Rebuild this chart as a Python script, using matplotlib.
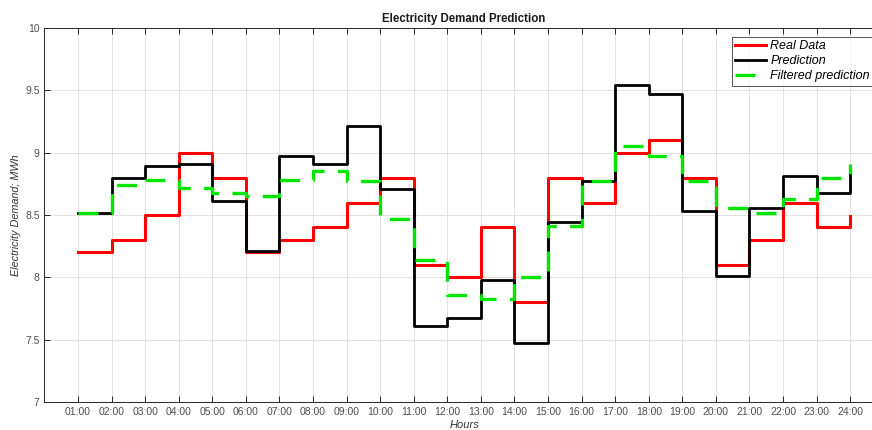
import numpy as np
import matplotlib
matplotlib.use("Agg")
import matplotlib.pyplot as plt

plt.rcParams['font.family'] = ['Liberation Sans', 'DejaVu Sans']

# hourly values (stairs, value held until next hour)
hours = list(range(1, 25))
hour_labels = ["%02d:00" % h for h in hours]

real_data = [8.2, 8.3, 8.5, 9.0, 8.8, 8.2, 8.3, 8.4, 8.6, 8.8, 8.1, 8.0,
             8.4, 7.8, 8.8, 8.6, 9.0, 9.1, 8.8, 8.1, 8.3, 8.6, 8.4, 8.49]
prediction = [8.52, 8.80, 8.89, 8.91, 8.61, 8.21, 8.97, 8.91, 9.21, 8.71, 7.61, 7.67,
              7.98, 7.47, 8.44, 8.77, 9.54, 9.47, 8.53, 8.01, 8.56, 8.81, 8.68, 8.86]
filtered = [8.52, 8.74, 8.78, 8.72, 8.68, 8.65, 8.78, 8.85, 8.77, 8.47, 8.14, 7.86,
            7.83, 8.00, 8.41, 8.77, 9.05, 8.97, 8.77, 8.56, 8.52, 8.63, 8.80, 8.91]

y_ticks = [7, 7.5, 8, 8.5, 9, 9.5, 10]
y_labels = ["7", "7.5", "8", "8.5", "9", "9.5", "10"]

fig = plt.figure(figsize=(8.72, 4.3), dpi=100)
# axes runs past the right edge of the picture, like the cropped original
ax = fig.add_axes([0.051, 0.0651, 0.9625, 0.8698])

ax.step(hours, real_data, where='post', color='#ff0000', lw=2.2, label='Real Data')
ax.step(hours, prediction, where='post', color='black', lw=2.0, label='Prediction')
ax.step(hours, filtered, where='post', color='#00e600', lw=2.4, dashes=(6, 4),
        label='Filtered prediction')

ax.set_xlim(0, 25)
ax.set_ylim(7, 10)
ax.set_xticks(hours)
ax.set_xticklabels(hour_labels)
ax.set_yticks(y_ticks)
ax.set_yticklabels(y_labels)

ax.grid(True, color='#dcdcdc', lw=0.6)
ax.set_axisbelow(True)
ax.tick_params(direction='in', length=4, width=0.7, colors='#262626',
               labelcolor='#4d4d4d', labelsize=7.5, top=True, right=False)
for s in ['top', 'left', 'bottom']:
    ax.spines[s].set_color('#262626')
    ax.spines[s].set_linewidth(0.7)
ax.spines['right'].set_visible(False)

ax.set_title('Electricity Demand Prediction', fontsize=8.3, fontweight='bold',
             color='#1a1a1a', pad=4)
ax.set_xlabel('Hours', fontsize=8, fontstyle='italic', color='#333333', labelpad=2)
ax.set_ylabel('Electricity Demand; MWh', fontsize=7.8, fontstyle='italic',
              color='#333333', labelpad=3)

leg = ax.legend(loc='upper left', bbox_to_anchor=(732 / 872, 1 - 37 / 430),
                bbox_transform=fig.transFigure, prop={'style': 'italic', 'size': 9},
                fancybox=False, frameon=True, borderaxespad=0, handlelength=2.5,
                handletextpad=0.3, labelspacing=0.25, borderpad=0.25)
leg.get_frame().set_edgecolor('#262626')
leg.get_frame().set_linewidth(0.7)

fig.savefig('out.png', dpi=100)
